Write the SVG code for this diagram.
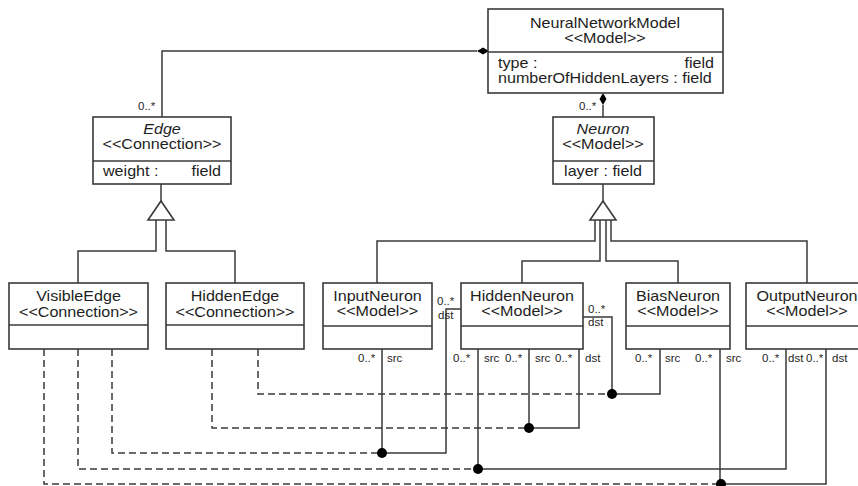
<svg xmlns="http://www.w3.org/2000/svg" width="858" height="486" viewBox="0 0 858 486">
<style>
.box{fill:#fff;stroke:#3a3a3a;stroke-width:1.6}
.ln{fill:none;stroke:#3a3a3a;stroke-width:1.5}
.dash{fill:none;stroke:#3a3a3a;stroke-width:1.5;stroke-dasharray:7 4}
text{font-family:"Liberation Sans",Arial,sans-serif;fill:#1e1e1e}
.t{font-size:14px}
.s{font-size:10px}
.m{text-anchor:middle}
.e{text-anchor:end}
.i{font-style:italic}
.dot{fill:#000}
</style>
<rect width="858" height="486" fill="#fff"/>
<g id="connectors">
  <!-- composition NNM - Edge -->
  <polyline class="ln" points="477,51 162,51 162,117"/>
  <polygon points="477,51 483,47.5 489,51 483,54.5" fill="#000"/>
  <!-- composition NNM - Neuron -->
  <line class="ln" x1="603" y1="105" x2="603" y2="117"/>
  <polygon points="603,93 606.5,99 603,105 599.5,99" fill="#000"/>
  <!-- generalization Edge -->
  <line class="ln" x1="161" y1="184" x2="161" y2="201"/>
  <polygon class="box" points="161,201 174,220 148,220"/>
  <polyline class="ln" points="156,220 156,251 78,251 78,283"/>
  <polyline class="ln" points="166,220 166,251 235,251 235,283"/>
  <!-- generalization Neuron -->
  <line class="ln" x1="603" y1="184" x2="603" y2="201"/>
  <polygon class="box" points="603,201 616,220 590,220"/>
  <polyline class="ln" points="595,220 595,241 377,241 377,283"/>
  <polyline class="ln" points="611,220 611,241 807,241 807,283"/>
  <polyline class="ln" points="600,220 600,261 522,261 522,283"/>
  <polyline class="ln" points="606,220 606,261 678,261 678,283"/>
  <!-- Bias -> Hidden (HiddenEdge) -->
  <polyline class="dash" points="258,349 258,394 612,394"/>
  <polyline class="ln" points="660,349 660,394 612,394 612,317 583,317"/>
  <circle class="dot" cx="612" cy="394" r="5"/>
  <!-- Hidden -> Hidden (HiddenEdge) -->
  <polyline class="dash" points="212,349 212,428 529,428"/>
  <polyline class="ln" points="529,349 529,428 579,428 579,349"/>
  <circle class="dot" cx="529" cy="428" r="5"/>
  <!-- Input -> Hidden (VisibleEdge) -->
  <polyline class="dash" points="112,349 112,453 382,453"/>
  <polyline class="ln" points="382,349 382,453 446,453 446,309 461,309"/>
  <circle class="dot" cx="382" cy="453" r="5"/>
  <!-- Hidden -> Output (VisibleEdge) -->
  <polyline class="dash" points="78,349 78,469 478,469"/>
  <polyline class="ln" points="478,349 478,469 786,469 786,349"/>
  <circle class="dot" cx="478" cy="469" r="5"/>
  <!-- Bias -> Output (VisibleEdge) -->
  <polyline class="dash" points="44,349 44,484 722,484"/>
  <polyline class="ln" points="720,349 720,484 826,484 826,349"/>
  <circle class="dot" cx="721" cy="484" r="5"/>
  <!-- labels -->
  <text class="s" transform="translate(138,110) scale(1.15,1)">0..*</text>
  <text class="s" transform="translate(579,110) scale(1.15,1)">0..*</text>
  <text class="s" transform="translate(437,305) scale(1.15,1)">0..*</text>
  <text class="s" transform="translate(438,319) scale(1.15,1)">dst</text>
  <text class="s" transform="translate(588,313) scale(1.15,1)">0..*</text>
  <text class="s" transform="translate(588,326) scale(1.15,1)">dst</text>
  <text class="s" transform="translate(358,362) scale(1.15,1)">0..*</text>
  <text class="s" transform="translate(387,362) scale(1.15,1)">src</text>
  <text class="s" transform="translate(453,362) scale(1.15,1)">0..*</text>
  <text class="s" transform="translate(484,362) scale(1.15,1)">src</text>
  <text class="s" transform="translate(505,362) scale(1.15,1)">0..*</text>
  <text class="s" transform="translate(535,362) scale(1.15,1)">src</text>
  <text class="s" transform="translate(555,362) scale(1.15,1)">0..*</text>
  <text class="s" transform="translate(585,362) scale(1.15,1)">dst</text>
  <text class="s" transform="translate(635,362) scale(1.15,1)">0..*</text>
  <text class="s" transform="translate(665,362) scale(1.15,1)">src</text>
  <text class="s" transform="translate(695,362) scale(1.15,1)">0..*</text>
  <text class="s" transform="translate(726,362) scale(1.15,1)">src</text>
  <text class="s" transform="translate(762,362) scale(1.15,1)">0..*</text>
  <text class="s" transform="translate(788,362) scale(1.15,1)">dst</text>
  <text class="s" transform="translate(806,362) scale(1.15,1)">0..*</text>
  <text class="s" transform="translate(832,362) scale(1.15,1)">dst</text>
</g>
<g id="NeuralNetworkModel">
  <rect class="box" x="488" y="9" width="235" height="84"/>
  <line class="ln" x1="488" y1="52" x2="723" y2="52"/>
  <text class="t m" transform="translate(605,28) scale(1.15,1)">NeuralNetworkModel</text>
  <text class="t m" transform="translate(605,43) scale(1.15,1)">&lt;&lt;Model&gt;&gt;</text>
  <text class="t" transform="translate(498,68) scale(1.15,1)">type :</text>
  <text class="t e" transform="translate(714,68) scale(1.15,1)">field</text>
  <text class="t" transform="translate(498,83) scale(1.15,1)">numberOfHiddenLayers : field</text>
</g>
<g id="Edge">
  <rect class="box" x="93" y="117" width="138" height="67"/>
  <line class="ln" x1="93" y1="161" x2="231" y2="161"/>
  <text class="t m i" transform="translate(162,134) scale(1.15,1)">Edge</text>
  <text class="t m" transform="translate(162,149) scale(1.15,1)">&lt;&lt;Connection&gt;&gt;</text>
  <text class="t" transform="translate(103,176) scale(1.15,1)">weight :</text>
  <text class="t e" transform="translate(221,176) scale(1.15,1)">field</text>
</g>
<g id="Neuron">
  <rect class="box" x="553" y="117" width="101" height="67"/>
  <line class="ln" x1="553" y1="161" x2="654" y2="161"/>
  <text class="t m i" transform="translate(603,134) scale(1.15,1)">Neuron</text>
  <text class="t m" transform="translate(603,149) scale(1.15,1)">&lt;&lt;Model&gt;&gt;</text>
  <text class="t m" transform="translate(603,176) scale(1.15,1)">layer :  field</text>
</g>
<g id="VisibleEdge">
  <rect class="box" x="9" y="283" width="139" height="66"/>
  <line class="ln" x1="9" y1="325" x2="148" y2="325"/>
  <text class="t m" transform="translate(78.5,301) scale(1.15,1)">VisibleEdge</text>
  <text class="t m" transform="translate(78.5,317) scale(1.15,1)">&lt;&lt;Connection&gt;&gt;</text>
</g>
<g id="HiddenEdge">
  <rect class="box" x="166" y="283" width="138" height="66"/>
  <line class="ln" x1="166" y1="325" x2="304" y2="325"/>
  <text class="t m" transform="translate(235,301) scale(1.15,1)">HiddenEdge</text>
  <text class="t m" transform="translate(235,317) scale(1.15,1)">&lt;&lt;Connection&gt;&gt;</text>
</g>
<g id="InputNeuron">
  <rect class="box" x="323" y="283" width="109" height="66"/>
  <line class="ln" x1="323" y1="326" x2="432" y2="326"/>
  <text class="t m" transform="translate(377.5,301) scale(1.15,1)">InputNeuron</text>
  <text class="t m" transform="translate(377.5,316) scale(1.15,1)">&lt;&lt;Model&gt;&gt;</text>
</g>
<g id="HiddenNeuron">
  <rect class="box" x="461" y="283" width="122" height="66"/>
  <line class="ln" x1="461" y1="326" x2="583" y2="326"/>
  <text class="t m" transform="translate(522,301) scale(1.15,1)">HiddenNeuron</text>
  <text class="t m" transform="translate(522,316) scale(1.15,1)">&lt;&lt;Model&gt;&gt;</text>
</g>
<g id="BiasNeuron">
  <rect class="box" x="626" y="283" width="104" height="66"/>
  <line class="ln" x1="626" y1="326" x2="730" y2="326"/>
  <text class="t m" transform="translate(678,301) scale(1.15,1)">BiasNeuron</text>
  <text class="t m" transform="translate(678,316) scale(1.15,1)">&lt;&lt;Model&gt;&gt;</text>
</g>
<g id="OutputNeuron">
  <rect class="box" x="746" y="283" width="124" height="66"/>
  <line class="ln" x1="746" y1="326" x2="870" y2="326"/>
  <text class="t m" transform="translate(807,301) scale(1.15,1)">OutputNeuron</text>
  <text class="t m" transform="translate(807,316) scale(1.15,1)">&lt;&lt;Model&gt;&gt;</text>
</g>
</svg>
